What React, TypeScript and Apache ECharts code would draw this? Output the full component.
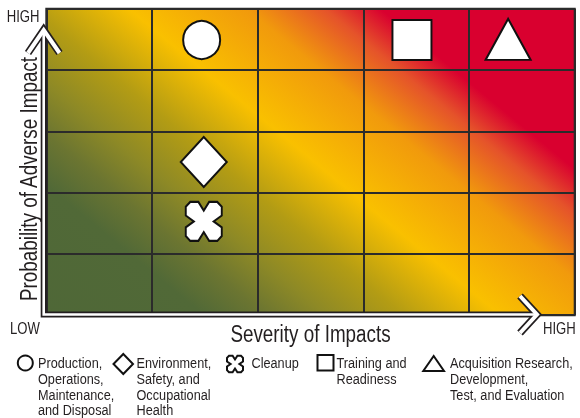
import React, { useEffect, useRef } from 'react';
import * as echarts from 'echarts';

// ---- data ----
const categories = [
  'Production, Operations, Maintenance, and Disposal',
  'Environment, Safety, and Occupational Health',
  'Cleanup',
  'Training and Readiness',
  'Acquisition Research, Development, Test, and Evaluation',
];
const legendLabels = [
  'Production,\nOperations,\nMaintenance,\nand Disposal',
  'Environment,\nSafety, and\nOccupational\nHealth',
  'Cleanup',
  'Training and\nReadiness',
  'Acquisition Research,\nDevelopment,\nTest, and Evaluation',
];
const severity = [1.47, 1.49, 1.49, 3.46, 4.37];
const probability = [4.49, 2.5, 1.53, 4.49, 4.5];
const axisEndLabels = ['LOW', 'HIGH'];
const xTitle = 'Severity of Impacts';
const yTitle = 'Probability of Adverse Impact';

// ---- styles ----
const CROSS =
  'path://M-7.5,-10 L-3,-10 L0,-5.5 L3,-10 L7.5,-10 L10,-7.5 L10,-3 L5.5,0 L10,3 L10,7.5 L7.5,10 L3,10 L0,5.5 L-3,10 L-7.5,10 L-10,7.5 L-10,3 L-5.5,0 L-10,-3 L-10,-7.5 Z';
const markerSymbols = ['circle', 'diamond', CROSS, 'rect', 'triangle'];
const markerSizes = [[37, 38], [46, 50], [36, 39], [39, 40], [45, 41]];
const FONT = '"Liberation Sans", Arial, sans-serif';
const NARROW = 0.82;
const INK = '#231f20';
const GRID_LINE = '#2b2b2b';

const GRID = { left: 46.3, top: 8.7, width: 528.4, height: 306.5 };

export default function App() {
  const ref = useRef<HTMLDivElement>(null);
  useEffect(() => {
    if (!ref.current) return;
    const chart = echarts.init(ref.current, null, { renderer: 'svg' });

    const bg = new echarts.graphic.LinearGradient(
      -159, 193, 254.4, -308.8,
      [
        { offset: 0, color: '#4e6737' },
        { offset: 0.21, color: '#516937' },
        { offset: 0.27, color: '#6b7531' },
        { offset: 0.33, color: '#8d8926' },
        { offset: 0.405, color: '#b39c14' },
        { offset: 0.5, color: '#f9c000' },
        { offset: 0.615, color: '#f19a0c' },
        { offset: 0.692, color: '#e5532a' },
        { offset: 0.746, color: '#d9002f' },
        { offset: 1, color: '#d9002f' },
      ],
      true
    );

    const legendX = [38, 136.5, 251.5, 336.5, 450];
    const crossPts = [
      [-7.5, -10], [-3, -10], [0, -5.5], [3, -10], [7.5, -10], [10, -7.5], [10, -3], [5.5, 0], [10, 3], [10, 7.5],
      [7.5, 10], [3, 10], [0, 5.5], [-3, 10], [-7.5, 10], [-10, 7.5], [-10, 3], [-5.5, 0], [-10, -3], [-10, -7.5],
    ];
    const legendMarkers: any[] = [
      { type: 'circle', shape: { cx: 25.3, cy: 363, r: 7.5 } },
      { type: 'polygon', shape: { points: [[113.5, 364], [123.3, 354], [133, 364], [123.3, 374]] } },
      { type: 'polygon', shape: { points: crossPts.map(([x, y]) => [235 + x * 0.8, 364 + y * 0.82]) } },
      { type: 'rect', shape: { x: 317.5, y: 355, width: 16, height: 15.5 } },
      { type: 'polygon', shape: { points: [[433.7, 356], [444, 371], [423.3, 371]] } },
    ];

    const markerStyle = { fill: '#fff', stroke: '#111', lineWidth: 2 };

    const dark = { stroke: INK, fill: null, lineJoin: 'miter' };
    const white = { stroke: '#fff', fill: null, lineJoin: 'miter' };
    const shaft = [[43.7, 30], [43.7, 314.5], [537, 314.5]];
    const chevTop = [[28, 53], [43.7, 30], [59.5, 53]];
    const chevRight = [[520, 296], [537, 314.5], [520, 333]];

    const txt = (x: number, y: number, text: string, size: number, align: string, vAlign: string) => ({
      type: 'text', z: 102, x, y, scaleX: NARROW,
      style: { text, fontSize: size, fontFamily: FONT, fill: INK, align, verticalAlign: vAlign },
    });

    const graphics: any[] = [
      { type: 'polyline', z: 100, shape: { points: shaft }, style: { ...dark, lineWidth: 6 } },
      { type: 'polyline', z: 100, shape: { points: chevTop }, style: { ...dark, lineWidth: 7.5 } },
      { type: 'polyline', z: 100, shape: { points: chevRight }, style: { ...dark, lineWidth: 7.5 } },
      { type: 'polyline', z: 101, shape: { points: shaft }, style: { ...white, lineWidth: 2.6 } },
      { type: 'polyline', z: 101, shape: { points: chevTop }, style: { ...white, lineWidth: 4 } },
      { type: 'polyline', z: 101, shape: { points: chevRight }, style: { ...white, lineWidth: 4 } },
      txt(39.5, 17, axisEndLabels[1], 16, 'right', 'middle'),
      txt(10, 329, axisEndLabels[0], 16, 'left', 'middle'),
      txt(543, 328.5, axisEndLabels[1], 16, 'left', 'middle'),
      txt(310.5, 333.5, xTitle, 23, 'center', 'middle'),
      { ...txt(29, 179, yTitle, 23, 'center', 'middle'), rotation: Math.PI / 2 },
    ];
    legendLabels.forEach((lab, i) => {
      graphics.push({ ...legendMarkers[i], z: 102, style: markerStyle });
      graphics.push({
        type: 'text', z: 102, x: legendX[i], y: 354.5, scaleX: NARROW,
        style: { text: lab, fontSize: 15.5, lineHeight: 15.85, fontFamily: FONT, fill: INK, align: 'left', verticalAlign: 'top' },
      });
    });

    const axisCommon = {
      type: 'value' as const,
      min: 0,
      max: 5,
      interval: 1,
      axisLine: { show: false },
      axisTick: { show: false },
      axisLabel: { show: false },
      splitLine: { show: true, lineStyle: { color: GRID_LINE, width: 2 } },
    };

    chart.setOption({
      animation: false,
      grid: {
        ...GRID,
        show: true,
        backgroundColor: bg,
        borderColor: GRID_LINE,
        borderWidth: 2,
      },
      xAxis: { ...axisCommon },
      yAxis: { ...axisCommon },
      series: [
        {
          type: 'scatter',
          z: 5,
          data: categories.map((name, i) => ({
            name,
            value: [severity[i], probability[i]],
            symbol: markerSymbols[i],
            symbolSize: markerSizes[i],
          })),
          itemStyle: { color: '#fff', borderColor: '#111', borderWidth: 2, opacity: 1 },
        },
      ],
      graphic: graphics,
    });
    return () => chart.dispose();
  }, []);
  return <div ref={ref} style={{ position: 'fixed', left: 0, top: 0, width: 580, height: 418 }} />;
}
